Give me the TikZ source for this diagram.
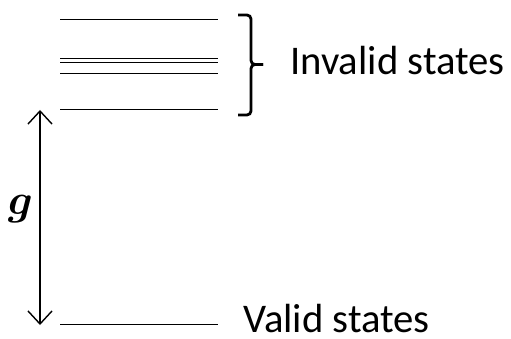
\documentclass[tikz,border=0pt]{standalone}
\usepackage{fontspec}
\setmainfont{Carlito}
\usepackage{amsmath,bm}
\usetikzlibrary{arrows.meta}
\begin{document}
\begin{tikzpicture}[x=1pt,y=-1pt,
  level/.style={line width=1.4pt},
  lbl/.style={font=\fontsize{40.7}{44}\selectfont, anchor=base west, inner sep=0pt, text depth=0pt}]
\useasboundingbox (0,0) rectangle (511,339);
% invalid levels
\draw[level] (60,19.5) -- (218,19.5);
\draw[level] (60,58.3) -- (218,58.3);
\draw[level] (60,62.3) -- (218,62.3);
\draw[level] (60,73.5) -- (218,73.5);
\draw[level] (60,109.5) -- (218,109.5);
% valid level
\draw[level] (60,324.5) -- (218,324.5);
% arrow
\coordinate (atop) at (40,110);
\coordinate (abot) at (40,325);
\draw[line width=1.4pt, {Straight Barb[length=13pt,width=24pt,line width=1.4pt]}-{Straight Barb[length=13pt,width=24pt,line width=1.4pt]}] (atop) -- (abot);
\node[inner sep=0pt] (g) at (20.5,209) {\scalebox{4.3}{$\bm{g}$}};
% brace
\draw[line width=2.8pt, rounded corners=4pt] (238,15) -- (251,15) -- (251,64.5) -- (263,64.5);
\draw[line width=2.8pt, rounded corners=4pt] (263,64.5) -- (251,64.5) -- (251,115) -- (238,115);
\node[lbl] (inv) at (290,75) {Invalid states};
\node[lbl] (val) at (243,332.5) {Valid states};
\end{tikzpicture}
\end{document}
